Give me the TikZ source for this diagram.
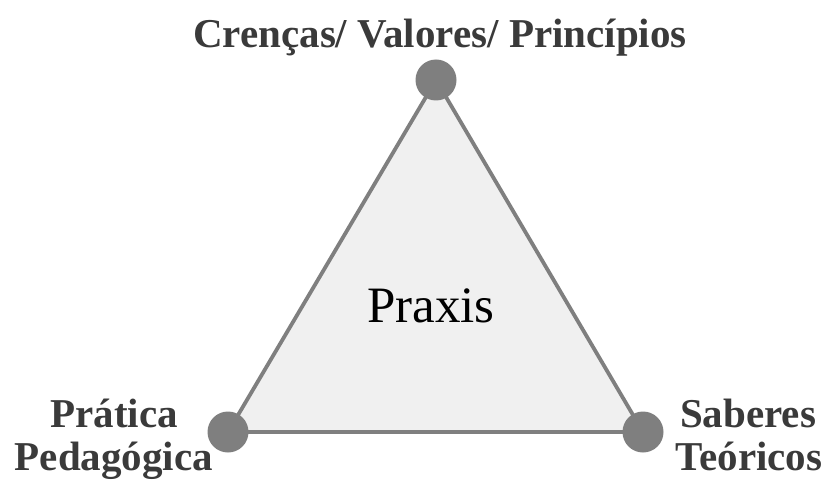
\documentclass[tikz,border=0pt]{standalone}
\usepackage{fontspec}
\setmainfont{Liberation Serif}
\begin{document}
\begin{tikzpicture}[x=1pt,y=-1pt,
  vertex/.style={circle,fill=vgray,draw=none,minimum size=41pt,inner sep=0pt},
  lbl/.style={text=txtgray,font=\fontsize{41}{43}\selectfont\bfseries,align=center,inner sep=0pt},
  edge/.style={draw=vgray,line width=3.8pt,fill=trifill,line join=round}]
\definecolor{vgray}{HTML}{7F7F7F}
\definecolor{trifill}{HTML}{F0F0F0}
\definecolor{txtgray}{HTML}{3A3A3A}
\useasboundingbox (0,0) rectangle (827,481);
\coordinate (t) at (436,80);
\coordinate (l) at (228,432);
\coordinate (r) at (643,432);
\path[edge] (t) -- (l) -- (r) -- cycle;
\node[vertex] (vt) at (t) {};
\node[vertex] (vl) at (l) {};
\node[vertex] (vr) at (r) {};
\node[font=\fontsize{51}{55}\selectfont,inner sep=0pt,anchor=base] (praxis) at (431,322) {Praxis};
\node[lbl,anchor=base] (top) at (440,48) {Crenças/ Valores/ Princípios};
\node[lbl,anchor=base] (lt1) at (114,427) {Prática};
\node[lbl,anchor=base] (lt2) at (114,470) {Pedagógica};
\node[lbl,anchor=base] (rt1) at (748,427) {Saberes};
\node[lbl,anchor=base] (rt2) at (749,470) {Teóricos};
\end{tikzpicture}
\end{document}
